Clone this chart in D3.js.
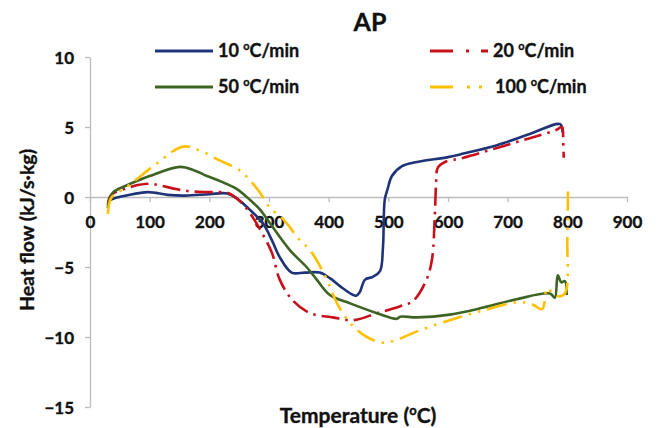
<!DOCTYPE html>
<html>
<head>
<meta charset="utf-8">
<script src="https://cdn.jsdelivr.net/npm/d3@7"></script>
<style>
  body { margin: 0; background: #fff; }
  svg text { font-family: Lato, "Open Sans", sans-serif; font-weight: bold; fill: #111; stroke: #111; stroke-width: 0.35px; }
</style>
</head>
<body>
<div id="chart"></div>
<script>
// heating rates (legend)
const seriesNames = ["10", "20", "50", "100"];

// 10 °C/min
const blueT = [30, 40, 60, 97, 130, 160, 200, 230, 246, 270, 290, 305, 318, 338, 360, 385, 402, 420, 441, 446, 452, 461, 474, 486, 491, 494, 499, 506, 523, 548, 600, 626, 682, 737, 788, 792];
const blueV = [-0.3, -0.1, 0.1, 0.35, 0.15, 0.1, 0.2, 0.25, -0.1, -1.0, -1.9, -3.1, -4.3, -5.4, -5.4, -5.4, -5.8, -6.4, -7.0, -7.05, -6.8, -5.9, -5.7, -5.3, -3.6, -0.2, 0.6, 1.5, 2.2, 2.5, 2.85, 3.1, 3.7, 4.5, 5.2, 4.6];

// 20 °C/min
const redT = [30, 33, 40, 60, 80, 100, 120, 146, 170, 200, 230, 246, 262, 275, 290, 305, 318, 340, 369, 407, 441, 481, 520, 542, 564, 573, 578, 580, 583, 595, 626, 682, 737, 782, 791, 793, 794];
const redV = [-0.6, 0, 0.3, 0.6, 0.85, 0.95, 0.8, 0.55, 0.4, 0.35, 0.3, -0.1, -0.8, -1.6, -2.7, -4.0, -5.9, -7.4, -8.3, -8.6, -8.8, -8.3, -7.8, -7.4, -5.9, -4.5, -1.2, 0.9, 2.1, 2.5, 2.8, 3.5, 4.2, 4.8, 5.0, 4.0, 2.8];

// 50 °C/min
const greenT = [30, 33, 39, 60, 100, 151, 175, 196, 220, 245, 268, 285, 302, 335, 363, 380, 402, 436, 481, 514, 520, 548, 603, 659, 715, 771, 779, 784, 790, 796, 799];
const greenV = [-0.8, -0.1, 0.35, 0.8, 1.5, 2.15, 1.9, 1.5, 1.1, 0.6, -0.2, -0.9, -1.9, -3.8, -5.0, -5.9, -7.0, -7.6, -8.3, -8.7, -8.55, -8.6, -8.4, -7.9, -7.3, -6.9, -7.2, -5.6, -6.1, -6.0, -7.0];

// 100 °C/min
const yellowT = [30, 32, 35, 39, 67, 112, 156, 185, 218, 251, 270, 285, 300, 324, 352, 369, 397, 414, 436, 464, 491, 514, 548, 603, 659, 720, 742, 758, 766, 776, 788, 797, 800, 801];
const yellowV = [-1.2, -0.5, -0.1, 0.1, 0.9, 2.4, 3.6, 3.3, 2.6, 1.9, 1.1, 0.3, -0.7, -1.6, -3.1, -3.8, -5.9, -7.6, -9.0, -10.0, -10.4, -10.2, -9.6, -8.8, -8.1, -7.5, -7.7, -8.0, -6.5, -6.9, -7.1, -6.8, -3.0, 0.4];

const xTicks = [0, 100, 200, 300, 400, 500, 600, 700, 800, 900];
const yTicks = [-15, -10, -5, 0, 5, 10];

const series = [
  { name: seriesNames[0], t: blueT, v: blueV, color: "#1f3478", dash: null },
  { name: seriesNames[1], t: redT, v: redV, color: "#c8101a", dash: "18,6,2.5,6" },
  { name: seriesNames[2], t: greenT, v: greenV, color: "#3e6424", dash: null },
  { name: seriesNames[3], t: yellowT, v: yellowV, color: "#ffc000", dash: "20,7,2.5,7,2.5,7" }
];

const W = 660, H = 428;
const svg = d3.select("#chart").append("svg")
  .attr("width", W)
  .attr("height", H);

svg.append("rect").attr("width", W).attr("height", H).attr("fill", "#fff");

const x = d3.scaleLinear().domain([0, 900]).range([90, 627]);
const y = d3.scaleLinear().domain([-15, 10]).range([407, 57]);

// axes
const yAxis = svg.append("g")
  .attr("transform", `translate(${x(0)},0)`)
  .call(d3.axisLeft(y).tickValues(yTicks).tickSize(5).tickSizeOuter(0).tickPadding(11).tickFormat(d3.format("d")));

const xAxis = svg.append("g")
  .attr("transform", `translate(0,${y(0)})`)
  .call(d3.axisBottom(x).tickValues(xTicks).tickSize(5).tickSizeOuter(0).tickPadding(14).tickFormat(d3.format("d")));

[xAxis, yAxis].forEach(g => {
  g.selectAll("path, line").attr("stroke", "#bcbcbc").attr("stroke-width", 1.3);
  g.selectAll("text").attr("font-size", 17).attr("fill", "#111")
    .style("font-family", "Lato, sans-serif").style("font-weight", "bold");
});
yAxis.selectAll("text").attr("dy", "0.36em");

// curves
const line = d3.line()
  .x(d => x(d[0]))
  .y(d => y(d[1]))
  .curve(d3.curveCatmullRom.alpha(0.5));

series.forEach(s => {
  const pts = s.t.map((t, i) => [t, s.v[i]]);
  svg.append("path")
    .datum(pts)
    .attr("fill", "none")
    .attr("stroke", s.color)
    .attr("stroke-width", 2.6)
    .attr("stroke-dasharray", s.dash)
    .attr("d", line);
});

// title
svg.append("text")
  .attr("x", 370).attr("y", 31)
  .attr("text-anchor", "middle")
  .attr("font-size", 25)
  .text("AP");

// axis titles
const xt = svg.append("text")
  .attr("x", 358).attr("y", 423)
  .attr("text-anchor", "middle")
  .attr("font-size", 21);
xt.append("tspan").text("Temperature (");
xt.append("tspan").attr("font-size", 13).attr("dy", -8).text("o");
xt.append("tspan").attr("dy", 8).text("C)");

svg.append("text")
  .attr("transform", "translate(34,230) rotate(-90)")
  .attr("text-anchor", "middle")
  .attr("font-size", 19.5)
  .text("Heat flow (kJ/s·kg)");

// legend
const legendPos = [
  { x: 155, y: 51 },
  { x: 430, y: 51 },
  { x: 155, y: 87 },
  { x: 430, y: 87 }
];

series.forEach((s, i) => {
  const p = legendPos[i];
  const g = svg.append("g").attr("transform", `translate(${p.x},${p.y})`);
  g.append("line")
    .attr("x1", 0).attr("x2", 58)
    .attr("y1", 0).attr("y2", 0)
    .attr("stroke", s.color)
    .attr("stroke-width", 3)
    .attr("stroke-dasharray", s.dash ? (i === 1 ? "23,13,3,12" : "23,14,3,9,3,20") : null);
  const t = g.append("text")
    .attr("x", s.name === "100" ? 65 : 63).attr("y", 6)
    .attr("font-size", 18);
  t.append("tspan").text(s.name + " ");
  t.append("tspan").attr("font-size", 11).attr("dy", -7).text("o");
  t.append("tspan").attr("dy", 7).text("C/min");
});
</script>
</body>
</html>
